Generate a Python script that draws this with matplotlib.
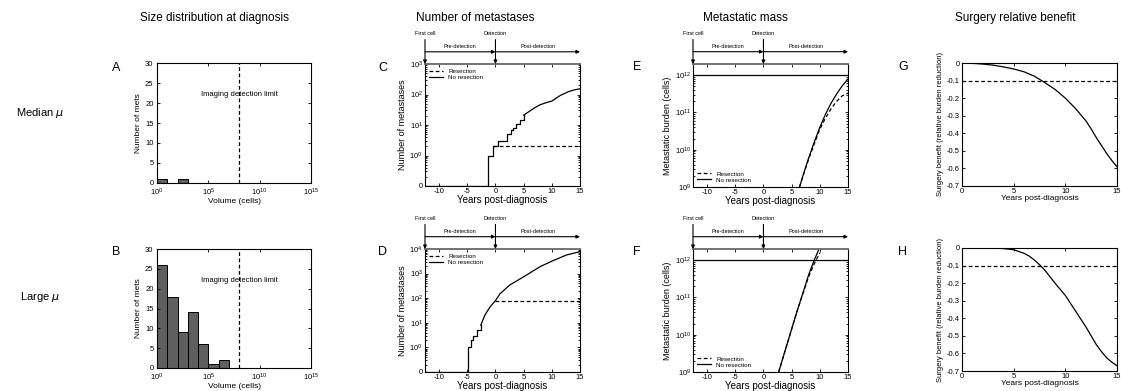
import numpy as np
import matplotlib
matplotlib.use('Agg')
from matplotlib import pyplot as plt
from matplotlib.ticker import FixedLocator, NullLocator, LogLocator

plt.rcParams['font.family'] = ['Liberation Sans', 'DejaVu Sans']
plt.rcParams['mathtext.default'] = 'regular'
plt.rcParams['axes.linewidth'] = 0.8
plt.rcParams['axes.unicode_minus'] = False

# ---- data ----
hist_edges = [0, 1, 2, 3, 4, 5, 6, 7, 8, 9, 10, 11, 12]  # log10 volume
hist_median = [1, 0, 1, 0, 0, 0, 0, 0, 0, 0, 0, 0]
hist_large = [26, 18, 9, 14, 6, 1, 2, 0, 0, 0, 0, 0]
detect_limit = 1e8

# number of metastases, median mu
c_step_t = [-12.5, -1.3, -0.4, 0.4, 2.1, 2.8, 3.2, 3.7, 4.3, 5.0]
c_step_n = [0, 1, 2, 3, 5, 7, 8, 11, 15, 21]
c_line_t = [5.0, 6.0, 7.0, 7.9, 9.0, 10.0, 11.5, 13.0, 14.0, 15.0]
c_line_n = [21, 28, 37, 46, 54, 61, 93, 125, 142, 154]
c_res_t = [-0.4, 15.0]
c_res_n = [2, 2]

# number of metastases, large mu
d_step_t = [-12.5, -4.8, -4.35, -3.9, -3.2, -2.6]
d_step_n = [0, 1, 2, 3, 5, 8]
d_line_t = [-2.6, -1.9, -1.0, 0.0, 0.8, 2.5, 5.0, 7.9, 10.0, 12.6, 15.0]
d_line_n = [8, 20, 43, 80, 150, 340, 740, 1900, 3200, 5700, 7800]
d_res_t = [0.0, 15.0]
d_res_n = [80, 80]

# metastatic burden (log10 cells)
e_t = [6.4, 7, 8, 9, 10, 11, 12, 13, 14, 15]
e_nores = [9.0, 9.3, 9.77, 10.2, 10.6, 10.95, 11.25, 11.5, 11.72, 11.9]
e_res = [9.0, 9.28, 9.74, 10.15, 10.55, 10.85, 11.1, 11.3, 11.45, 11.52]
f_t = [2.7, 4, 5, 6, 7, 8, 9, 10]
f_nores = [9.0, 9.65, 10.15, 10.65, 11.12, 11.6, 12.0, 12.35]
f_res = [9.0, 9.65, 10.15, 10.65, 11.1, 11.55, 11.9, 12.2]
lethal = 1e12

# surgery benefit
g_t = [0, 1, 2, 3, 4, 5, 6, 7, 7.7, 9, 10, 11, 12, 12.5, 13, 13.5, 14, 14.5, 15]
g_b = [0, -0.002, -0.006, -0.012, -0.022, -0.034, -0.05, -0.075, -0.1,
       -0.15, -0.2, -0.26, -0.33, -0.375, -0.425, -0.47, -0.515, -0.555, -0.59]
h_t = [0, 1, 2, 3, 4, 5, 6, 6.5, 7, 7.5, 8, 9, 10, 11, 12, 13, 13.5, 14, 14.5, 15]
h_b = [0, 0, 0, -0.001, -0.003, -0.01, -0.03, -0.046, -0.068, -0.095, -0.125,
       -0.2, -0.27, -0.36, -0.45, -0.55, -0.59, -0.625, -0.65, -0.67]
benefit_thr = -0.1

W, H = 1121, 391
fig = plt.figure(figsize=(W / 100, H / 100), dpi=100)


def box(l, t, r, b):
    return fig.add_axes([l / W, 1 - b / H, (r - l) / W, (b - t) / H])


def style(ax):
    ax.tick_params(direction='in', top=True, right=True, which='both',
                   labelsize=5.5, length=2, width=0.6, pad=1.5)
    ax.tick_params(which='minor', length=1.2)


def hist_panel(ax, counts):
    e = np.array(hist_edges, dtype=float)
    left = 10 ** e[:-1]
    width = 10 ** e[1:] - left
    ax.bar(left, counts, width=width, align='edge', color='#5f5f5f',
           edgecolor='k', linewidth=0.7)
    ax.set_xscale('log')
    ax.set_xlim(1, 1e15)
    ax.set_ylim(0, 30)
    ax.xaxis.set_major_locator(FixedLocator([1, 1e5, 1e10, 1e15]))
    ax.xaxis.set_minor_locator(NullLocator())
    ax.set_yticks([0, 5, 10, 15, 20, 25, 30])
    ax.axvline(detect_limit, color='k', ls=(0, (3, 2)), lw=0.9)
    ax.text(detect_limit, 22, 'Imaging detection limit', ha='center',
            va='center', fontsize=5.5)
    ax.set_xlabel('Volume (cells)', fontsize=6, labelpad=0)
    ax.set_ylabel('Number of mets', fontsize=6, labelpad=2)
    style(ax)
    ax.tick_params(axis='x', pad=3)
    ax.tick_params(axis='y', pad=2.5)


def timeline(ax, x0, x1):
    tr = ax.get_xaxis_transform()
    ap = dict(arrowstyle='-|>', color='k', lw=0.8, mutation_scale=5,
              shrinkA=0, shrinkB=0)
    for x in (x0, 0):
        ax.annotate('', xy=(x, 1.0), xytext=(x, 1.2), xycoords=tr,
                    textcoords=tr, arrowprops=ap, annotation_clip=False)
    ax.annotate('', xy=(0, 1.1), xytext=(x0, 1.1), xycoords=tr,
                textcoords=tr, arrowprops=ap, annotation_clip=False)
    ax.annotate('', xy=(x1, 1.1), xytext=(0, 1.1), xycoords=tr,
                textcoords=tr, arrowprops=ap, annotation_clip=False)
    ax.text(x0, 1.23, 'First cell', transform=tr, ha='center', va='bottom',
            fontsize=4)
    ax.text(0, 1.23, 'Detection', transform=tr, ha='center', va='bottom',
            fontsize=4)
    ax.text(x0 / 2, 1.12, 'Pre-detection', transform=tr, ha='center',
            va='bottom', fontsize=4)
    ax.text(x1 / 2, 1.12, 'Post-detection', transform=tr, ha='center',
            va='bottom', fontsize=4)
    ax.spines['top'].set_color('0.45')
    ax.spines['top'].set_linewidth(1.4)


def count_panel(ax, st, sn, lt, ln, rt, rn, top):
    z = lambda v: np.where(np.array(v) > 0, v, 0.1)
    ax.step(st, z(sn), where='post', color='k', lw=0.9)
    l1, = ax.plot(lt, ln, color='k', lw=0.9)
    l2, = ax.plot(rt, rn, color='k', ls=(0, (3, 2)), lw=0.9)
    ax.set_yscale('log')
    ax.set_xlim(-12.5, 15)
    ax.set_ylim(0.1, top)
    ticks = [0.1] + [10 ** k for k in range(int(np.log10(top)) + 1)]
    ax.set_yticks(ticks)
    ax.set_yticklabels(['0'] + ['$10^{%d}$' % k for k in range(len(ticks) - 1)])
    ax.yaxis.set_minor_locator(LogLocator(subs=np.arange(2, 10)))
    ax.set_xticks([-10, -5, 0, 5, 10, 15])
    ax.legend([l2, l1], ['Resection', 'No resection'], loc='upper left',
              frameon=False, fontsize=4.5, handlelength=2.2,
              borderaxespad=0.3, labelspacing=0.1)
    ax.set_xlabel('Years post-diagnosis', fontsize=7, labelpad=0)
    ax.set_ylabel('Number of metastases', fontsize=6.5, labelpad=2)
    style(ax)
    timeline(ax, -12.5, 15)


def mass_panel(ax, t, nores, res):
    l1, = ax.plot(t, 10 ** np.array(nores), color='k', lw=0.9)
    l2, = ax.plot(t, 10 ** np.array(res), color='k', ls=(0, (3, 2)), lw=0.9)
    ax.axhline(lethal, color='k', lw=0.9)
    ax.set_yscale('log')
    ax.set_xlim(-12.5, 15)
    ax.set_ylim(1e9, 2e12)
    ax.set_yticks([1e9, 1e10, 1e11, 1e12])
    ax.yaxis.set_minor_locator(LogLocator(subs=np.arange(2, 10)))
    ax.set_xticks([-10, -5, 0, 5, 10, 15])
    ax.legend([l2, l1], ['Resection', 'No resection'], loc='lower left',
              frameon=False, fontsize=4.5, handlelength=2.2,
              borderaxespad=0.3, labelspacing=0.1)
    ax.set_xlabel('Years post-diagnosis', fontsize=7, labelpad=0)
    ax.set_ylabel('Metastatic burden (cells)', fontsize=6.5, labelpad=2)
    style(ax)
    timeline(ax, -12.5, 15)


def benefit_panel(ax, t, b):
    ax.plot(t, b, color='k', lw=0.9)
    ax.axhline(benefit_thr, color='k', ls=(0, (3, 2)), lw=0.9)
    ax.set_xlim(0, 15)
    ax.set_ylim(-0.7, 0)
    ax.set_xticks([0, 5, 10, 15])
    ax.set_yticks([0, -0.1, -0.2, -0.3, -0.4, -0.5, -0.6, -0.7])
    ax.set_yticklabels(['0', '-0.1', '-0.2', '-0.3', '-0.4', '-0.5', '-0.6', '-0.7'])
    ax.set_xlabel('Years post-diagnosis', fontsize=6, labelpad=0)
    ax.set_ylabel('Surgery benefit (relative burden reduction)', fontsize=5.5,
                  labelpad=2)
    style(ax)


hist_panel(box(157, 63, 311, 183), hist_median)
hist_panel(box(157, 249, 311, 368), hist_large)
count_panel(box(425, 64, 580, 186), c_step_t, c_step_n, c_line_t, c_line_n,
            c_res_t, c_res_n, 1e3)
count_panel(box(425, 249, 580, 372), d_step_t, d_step_n, d_line_t, d_line_n,
            d_res_t, d_res_n, 1e4)
mass_panel(box(693, 64, 848, 187), e_t, e_nores, e_res)
mass_panel(box(693, 249, 848, 372), f_t, f_nores, f_res)
benefit_panel(box(962, 63, 1117, 186), g_t, g_b)
benefit_panel(box(962, 248, 1117, 371), h_t, h_b)

titles = ['Size distribution at diagnosis', 'Number of metastases',
          'Metastatic mass', 'Surgery relative benefit']
for x, s in zip([215, 475, 745, 1015], titles):
    fig.text(x / W, 1 - 18 / H, s, ha='center', va='center', fontsize=8.5)

fig.text(40 / W, 1 - 113 / H, r'Median $\mathit{\mu}$', ha='center', va='center', fontsize=8)
fig.text(40 / W, 1 - 297 / H, r'Large $\mathit{\mu}$', ha='center', va='center', fontsize=8)

for x, y, s in [(112, 68, 'A'), (112, 252, 'B'), (378, 68, 'C'), (378, 252, 'D'),
                (633, 67, 'E'), (633, 252, 'F'), (898, 67, 'G'), (898, 252, 'H')]:
    fig.text(x / W, 1 - y / H, s, ha='left', va='center', fontsize=9)

fig.savefig('out.png', dpi=100)
